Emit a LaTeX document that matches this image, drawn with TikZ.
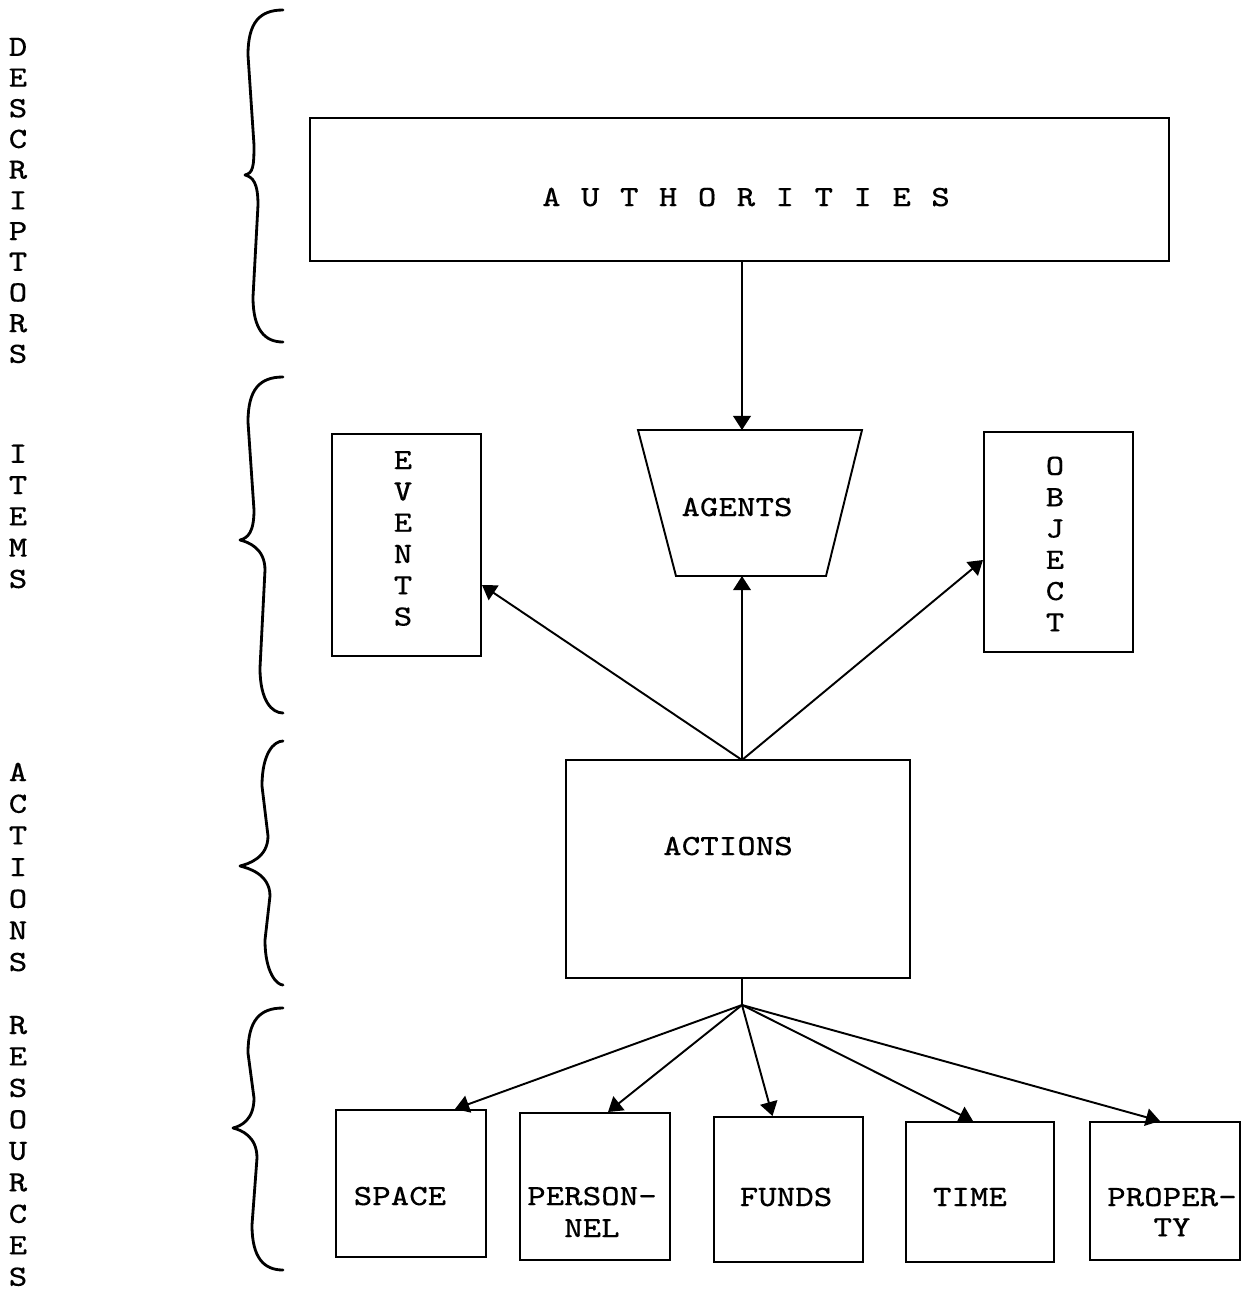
\documentclass[tikz,border=0pt]{standalone}
\usepackage{fontspec}
\newfontfamily\tw[FakeStretch=1.18, FakeBold=0.15]{Latin Modern Mono}
\usetikzlibrary{arrows.meta,calc}

% left curly brace: top y, tip y, bottom y, upper x, lower x, tip x
\newcommand{\sidebrace}[6]{%
  \draw[curly] (283,#1) .. controls ({#4+12},#1) and (#4,{#1+12}) .. (#4,{#1+45})
    -- ({#4+6},{#2-30}) .. controls ({#4+6},{#2-8}) and ({#6+8},{#2-2}) .. (#6,#2)
    .. controls ({#6+8},{#2+2}) and ({#5+5},{#2+8}) .. ({#5+5},{#2+30})
    -- (#5,{#3-45}) .. controls (#5,{#3-12}) and ({#5+12},#3) .. (283,#3);}

\begin{document}
\begin{tikzpicture}[x=0.01cm, y=-0.01cm,
  box/.style={draw, line width=0.55pt, inner sep=0pt},
  lbl/.style={font=\tw\fontsize{8.4}{#1}\selectfont, align=center, inner sep=0pt},
  lbl/.default=8.9pt,
  arr/.style={-{Triangle[width=5pt,length=4pt]}, line width=0.55pt},
  curly/.style={line width=0.8pt, line cap=round, line join=round}]
\useasboundingbox (0,0) rectangle (1245,1299);

% side labels and braces
\node[lbl=8.73pt] (descr) at (18,200.5) {D\\E\\S\\C\\R\\I\\P\\T\\O\\R\\S};
\node[lbl=8.9pt] (items) at (18,516.5) {I\\T\\E\\M\\S};
\node[lbl=9pt] (acts) at (18,867) {A\\C\\T\\I\\O\\N\\S};
\node[lbl=8.95pt] (res) at (18,1151) {R\\E\\S\\O\\U\\R\\C\\E\\S};
\sidebrace{10}{175}{342}{248}{253}{245}
\sidebrace{377}{540}{713}{248}{260}{240}
\sidebrace{741}{866}{985}{262}{265}{240}
\sidebrace{1008}{1128}{1270}{248}{252}{233}

% boxes
\node[box, minimum width=8.59cm, minimum height=1.43cm] (auth) at (739.5,189.5) {};
\node[lbl] (authtxt) at (746,197) {\spaceskip=2.04mm A U T H O R I T I E S};

\coordinate (agtl) at (638,430);
\coordinate (agtr) at (862,430);
\coordinate (agbr) at (826,576);
\coordinate (agbl) at (676,576);
\coordinate (agtop) at (742,430);
\coordinate (agbot) at (742,576);
\draw[line width=0.55pt] (agtl) -- (agtr) -- (agbr) -- (agbl) -- cycle;
\node[lbl] (agents) at (737,507) {AGENTS};

\node[box, minimum width=1.49cm, minimum height=2.22cm] (events) at (406.5,545) {};
\node[lbl] (eventstxt) at (403,538.5) {E\\V\\E\\N\\T\\S};
\node[box, minimum width=1.49cm, minimum height=2.20cm] (object) at (1058.5,542) {};
\node[lbl] (objecttxt) at (1055,544) {O\\B\\J\\E\\C\\T};

\node[box, minimum width=3.44cm, minimum height=2.18cm] (actions) at (738,869) {};
\node[lbl] (actionstxt) at (728,846) {ACTIONS};
\coordinate (hub) at (742,760);
\coordinate (fork) at (742,1005);

\node[box, minimum width=1.50cm, minimum height=1.47cm] (space) at (411,1183.5) {};
\node[lbl] (spacetxt) at (400,1196) {SPACE};
\node[box, minimum width=1.50cm, minimum height=1.47cm] (personnel) at (595,1186.5) {};
\node[lbl=9.1pt] (personneltxt) at (592,1212) {PERSON-\\NEL};
\node[box, minimum width=1.49cm, minimum height=1.45cm] (funds) at (788.5,1189.5) {};
\node[lbl] (fundstxt) at (786,1197) {FUNDS};
\node[box, minimum width=1.48cm, minimum height=1.40cm] (time) at (980,1192) {};
\node[lbl] (timetxt) at (970,1197) {TIME};
\node[box, minimum width=1.50cm, minimum height=1.38cm] (property) at (1165,1191) {};
\node[lbl=8.6pt] (propertytxt) at (1172,1212) {PROPER-\\TY};

% connectors
\draw[arr] (auth.south -| agtop) -- (agtop);
\draw[arr] (hub) -- ($(events.east)+(0,40)$);
\draw[arr] (hub) -- (agbot);
\draw[arr] (hub) -- ($(object.west)+(0,18)$);
\draw[line width=0.55pt] (actions.south -| fork) -- (fork);
\draw[arr] (fork) -- ($(space.north)+(44,0)$);
\draw[arr] (fork) -- ($(personnel.north)+(13,0)$);
\draw[arr] (fork) -- ($(funds.north)+(-16,0)$);
\draw[arr] (fork) -- ($(time.north)+(-7,0)$);
\draw[arr] (fork) -- ($(property.north)+(-5,0)$);
\end{tikzpicture}
\end{document}
